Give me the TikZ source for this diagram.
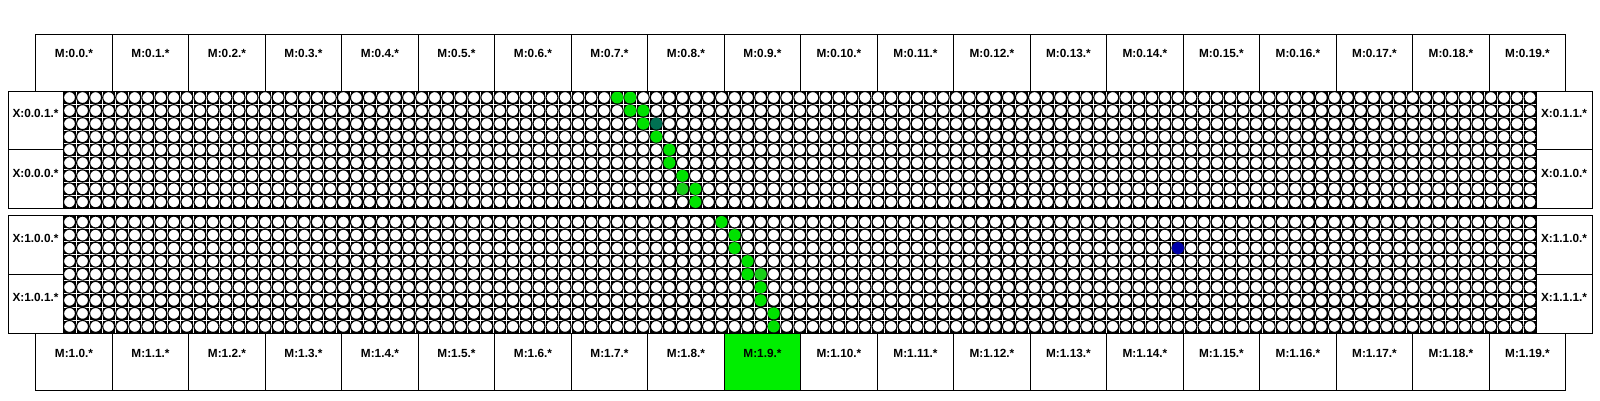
\documentclass[tikz,border=0pt]{standalone}
\usepackage{fontspec}
\setmainfont{Liberation Sans}
\definecolor{hitgreen}{RGB}{0,226,0}
\definecolor{hitmid}{RGB}{24,206,24}
\definecolor{hitdark}{RGB}{0,112,82}
\definecolor{hitblue}{RGB}{0,0,168}
\definecolor{memgreen}{RGB}{0,238,0}
\tikzset{
  lbl/.style={font=\fontsize{11.8}{14}\selectfont\bfseries},
  box/.style={draw=black,line width=0.9pt},
  gapline/.style={draw=white,line width=0.7pt},
  cell/.style={fill=white,draw=black,line width=1.1pt},
  hit/.style={fill=#1}
}
\newcommand{\cw}{13.04}
\newcommand{\ch}{13.05}

\begin{document}
\begin{tikzpicture}[x=1pt,y=-1pt]
  \useasboundingbox (0,0) rectangle (1600,400);
  \fill[white] (0,0) rectangle (1600,400);

  \begin{scope}[shift={(63,91)}]
    \fill (0,0) rectangle (113*\cw,9*\ch);
    \foreach \c in {1,...,112} \draw[gapline] (\c*\cw,0) -- (\c*\cw,9*\ch);
    \foreach \r in {1,...,8} \draw[gapline] (0,\r*\ch) -- (113*\cw,\r*\ch);
    \foreach \c in {0,...,112} \foreach \r in {0,...,8}
      \draw[cell] (\c*\cw+0.5*\cw,\r*\ch+0.5*\ch) circle (5.95);
    \foreach \c/\r in {42/0,43/0,43/1,44/1,44/2,45/3,46/4,46/5,47/6,48/7,48/8}
      \fill[hit=hitgreen] (\c*\cw+0.5*\cw,\r*\ch+0.5*\ch) circle (6);
    \fill[hit=hitdark] (45*\cw+0.5*\cw,2*\ch+0.5*\ch) circle (6);
    \fill[hit=hitmid] (47*\cw+0.5*\cw,7*\ch+0.5*\ch) circle (6);
  \end{scope}

  \begin{scope}[shift={(63,215.5)}]
    \fill (0,0) rectangle (113*\cw,9*\ch);
    \foreach \c in {1,...,112} \draw[gapline] (\c*\cw,0) -- (\c*\cw,9*\ch);
    \foreach \r in {1,...,8} \draw[gapline] (0,\r*\ch) -- (113*\cw,\r*\ch);
    \foreach \c in {0,...,112} \foreach \r in {0,...,8}
      \draw[cell] (\c*\cw+0.5*\cw,\r*\ch+0.5*\ch) circle (5.95);
    \foreach \c/\r in {50/0,51/1,51/2,52/3,52/4,53/5,53/6,54/7,54/8}
      \fill[hit=hitgreen] (\c*\cw+0.5*\cw,\r*\ch+0.5*\ch) circle (6);
    \fill[hit=hitmid] (53*\cw+0.5*\cw,4*\ch+0.5*\ch) circle (6);
    \fill[hit=hitblue] (85*\cw+0.5*\cw,2*\ch+0.5*\ch) circle (6);
  \end{scope}

  \draw[box] (8,91) rectangle (1592,208.5);
  \draw[box] (63,91) -- (63,208.5) (1536.5,91) -- (1536.5,208.5);
  \draw[box] (8,149.7) -- (63,149.7) (1536.5,149.7) -- (1592,149.7);
  \draw[box] (8,215.5) rectangle (1592,333);
  \draw[box] (63,215.5) -- (63,333) (1536.5,215.5) -- (1536.5,333);
  \draw[box] (8,274.2) -- (63,274.2) (1536.5,274.2) -- (1592,274.2);

  \node[lbl] (x001) at (35.5,113) {X:0.0.1.*};
  \node[lbl] (x000) at (35.5,173) {X:0.0.0.*};
  \node[lbl] (x011) at (1564,113) {X:0.1.1.*};
  \node[lbl] (x010) at (1564,173) {X:0.1.0.*};
  \node[lbl] (x100) at (35.5,238) {X:1.0.0.*};
  \node[lbl] (x101) at (35.5,297) {X:1.0.1.*};
  \node[lbl] (x110) at (1564,238) {X:1.1.0.*};
  \node[lbl] (x111) at (1564,297) {X:1.1.1.*};

  \fill[memgreen] (35.7+76.5*9,333) rectangle ++(76.5,57);
  \foreach \i in {0,...,19} {
    \draw[box] (35.7+76.5*\i,34.3) rectangle ++(76.5,56.7);
    \node[lbl] (mt\i) at (35.7+76.5*\i+38.25,53.5) {M:0.\i.*};
    \draw[box] (35.7+76.5*\i,333) rectangle ++(76.5,57);
    \node[lbl] (mb\i) at (35.7+76.5*\i+38.25,353) {M:1.\i.*};
  }
\end{tikzpicture}
\end{document}
